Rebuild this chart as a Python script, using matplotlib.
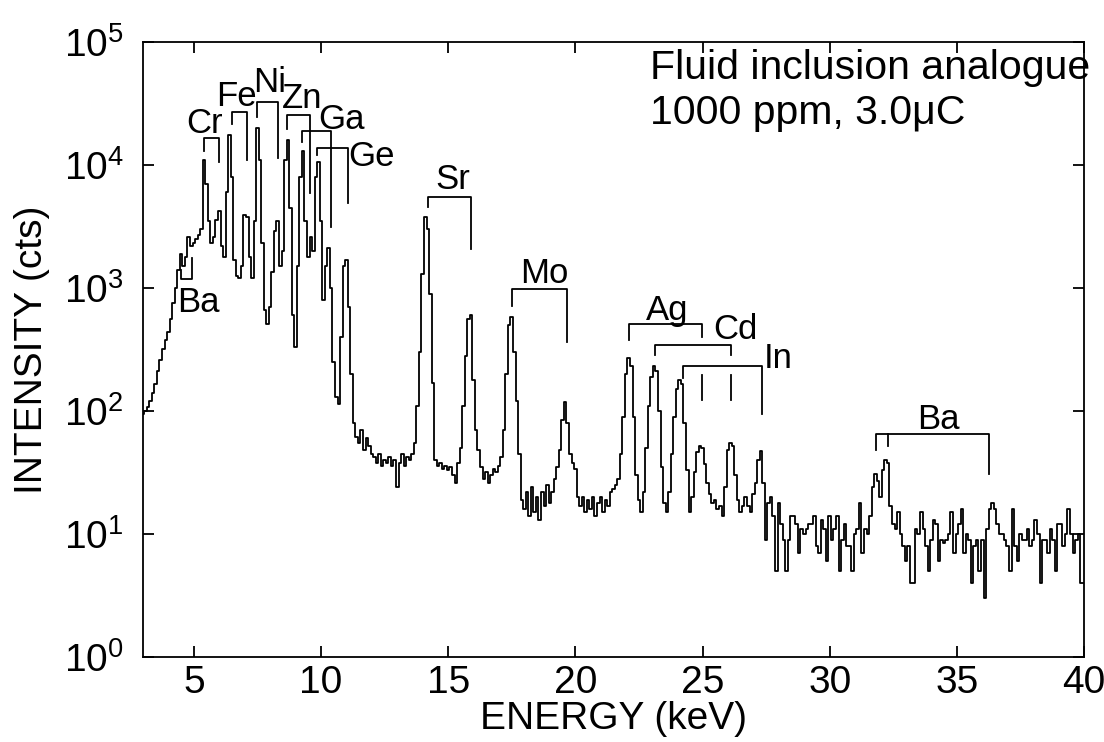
import numpy as np
import matplotlib
matplotlib.use('Agg')
import matplotlib.pyplot as plt

plt.rcParams['font.family'] = ['Liberation Sans', 'DejaVu Sans']
plt.rcParams['mathtext.default'] = 'regular'

# spectrum, one value per 0.1 keV channel, 3.0 ... 40.0 keV
e_start = 3.0
e_step = 0.1
counts = [
    95, 100, 108, 120, 140, 165, 210, 260, 320, 380,             # 3
    440, 560, 760, 1000, 1400, 1900, 1500, 1800, 2600, 2200,      # 4
    2300, 2500, 2700, 3000, 11000, 7000, 3500, 2300, 2600, 3600,  # 5
    4200, 2200, 1800, 6000, 17500, 8000, 1700, 1250, 1200, 1500,  # 6
    3900, 3800, 1800, 1200, 3500, 20000, 11000, 2300, 660, 510,   # 7
    700, 1350, 2900, 3500, 1500, 2000, 11000, 16000, 4500, 600,   # 8
    330, 1500, 8000, 13000, 3500, 1800, 2600, 2000, 8000, 10500,  # 9
    3500, 800, 1500, 2100, 1000, 250, 130, 115, 400, 1500,        # 10
    1700, 700, 200, 80, 62, 55, 70, 48, 60, 52,                   # 11
    45, 42, 38, 45, 36, 40, 38, 42, 36, 40,                       # 12
    24, 38, 45, 36, 42, 40, 45, 55, 110, 300,                     # 13
    1300, 3800, 3000, 900, 170, 40, 36, 38, 34, 36,               # 14
    33, 35, 30, 26, 38, 50, 110, 280, 560, 600,                   # 15
    180, 70, 48, 35, 28, 32, 26, 30, 34, 32,                      # 16
    36, 42, 70, 200, 500, 580, 300, 120, 45, 19,                  # 17
    16, 22, 14, 24, 15, 20, 13, 22, 17, 25,                       # 18
    18, 22, 28, 35, 48, 85, 118, 80, 45, 38,                      # 19
    34, 20, 17, 20, 15, 19, 16, 20, 14, 18,                       # 20
    20, 15, 19, 17, 22, 23, 25, 28, 45, 90,                       # 21
    200, 270, 230, 90, 30, 19, 15, 22, 50, 110,                   # 22
    190, 230, 210, 100, 35, 18, 15, 22, 45, 90,                   # 23
    150, 180, 165, 80, 33, 15, 20, 32, 46, 52,                    # 24
    50, 37, 26, 21, 18, 19, 16, 17, 14, 24,                       # 25
    48, 55, 52, 30, 19, 15, 17, 20, 17, 15,                       # 26
    21, 26, 40, 47, 26, 9, 18, 20, 14, 5,                         # 27
    18, 12, 9, 5, 9, 14, 14, 12, 7, 11,                           # 28
    10, 11, 12, 12, 14, 8, 7, 13, 11, 6,                          # 29
    14, 9, 11, 14, 5, 9, 12, 8, 8, 5,                             # 30
    10, 11, 18, 7, 11, 10, 14, 24, 31, 27,                        # 31
    20, 33, 40, 38, 17, 12, 11, 15, 10, 8,                        # 32
    6, 8, 4, 4, 11, 10, 15, 11, 8, 5,                             # 33
    9, 13, 12, 6, 9, 8.5, 9, 10, 15, 7,                           # 34
    10, 12, 16, 7, 10, 9, 4, 8, 9, 5,                             # 35
    9, 3, 11, 16, 18, 16, 12, 10, 10, 9,                          # 36
    8, 5, 16, 8, 6, 10, 9, 9, 11, 8,                              # 37
    9, 13, 10, 4, 9, 9, 7, 11, 9, 5,                              # 38
    12, 12, 8, 10, 16, 10, 7, 9, 10, 4,                           # 39
    4,                                                            # 40
]

# element brackets: name, Ka / Kb energies, bar height, leg ends (counts)
br_names = ['Cr', 'Fe', 'Ni', 'Zn', 'Ga', 'Ge', 'Sr', 'Mo', 'Ag', 'Cd', 'In']
br_e1 = [5.40, 6.49, 7.50, 8.65, 9.26, 9.86, 14.19, 17.51, 22.12, 23.13, 24.22]
br_e2 = [5.99, 7.08, 8.30, 9.58, 10.39, 11.07, 15.90, 19.69, 24.98, 26.12, 27.35]
br_top = [16600, 26900, 32400, 25700, 19000, 13800, 5500, 980, 513, 347, 234]
br_low1 = [12900, 21400, 24500, 19500, 15500, 12000, 4570, 708, 380, 285, 184]
br_low2 = [10500, 11000, 11500, 5900, 3160, 4900, 2090, 363, 398, 285, 95]
lab_x = [5.43, 6.66, 7.97, 9.24, 10.79, 12.0, 15.17, 18.77, 23.6, 26.28, 27.97]
lab_y = [21900, 36300, 46800, 34700, 23400, 11700, 7600, 1320, 660, 457, 269]

# lower tick marks of Ag and Cd Kb below the In bar
extra_e = [24.98, 26.12]
extra_lo = [123, 123]
extra_hi = [195, 195]

# Ba K bracket (two Ka legs + Kb)
baK_e = [31.82, 32.28, 36.28]
baK_top = 65
baK_low = [48, 52, 30.5]
# Ba L bracket (opened upward)
baL_e = [4.51, 4.91]
baL_bot = 1175
baL_hi = [1410, 1740]

e = e_start + e_step * np.arange(len(counts))

fig = plt.figure(figsize=(11.04, 7.42), dpi=100)
ax = fig.add_axes([0.1295, 0.1146, 0.8524, 0.8288])
ax.step(e, counts, where='mid', color='black', lw=1.3)

lk = dict(color='black', lw=1.3)
for i in range(len(br_names)):
    ax.plot([br_e1[i], br_e1[i], br_e2[i], br_e2[i]],
            [br_low1[i], br_top[i], br_top[i], br_low2[i]], **lk)
    ax.text(lab_x[i], lab_y[i], br_names[i], fontsize=25, ha='center', va='center')
for i in range(len(extra_e)):
    ax.plot([extra_e[i], extra_e[i]], [extra_lo[i], extra_hi[i]], **lk)

ax.plot([baK_e[0], baK_e[0], baK_e[2], baK_e[2]],
        [baK_low[0], baK_top, baK_top, baK_low[2]], **lk)
ax.plot([baK_e[1], baK_e[1]], [baK_low[1], baK_top], **lk)
ax.text(34.27, 85, 'Ba', fontsize=25, ha='center', va='center')

ax.plot([baL_e[0], baL_e[0], baL_e[1], baL_e[1]],
        [baL_hi[0], baL_bot, baL_bot, baL_hi[1]], **lk)
ax.text(5.18, 760, 'Ba', fontsize=25, ha='center', va='center')

ax.text(0.539, 0.958, 'Fluid inclusion analogue', transform=ax.transAxes,
        fontsize=29.5, ha='left', va='center')
ax.text(0.539, 0.885, '1000 ppm, 3.0μC', transform=ax.transAxes,
        fontsize=29.5, ha='left', va='center')

ax.set_yscale('log')
ax.set_xlim(3, 40)
ax.set_ylim(1, 1e5)
ax.set_xticks([5, 10, 15, 20, 25, 30, 35, 40])
ax.set_yticks([1, 10, 100, 1e3, 1e4, 1e5])
ax.minorticks_off()
ax.tick_params(direction='in', top=True, right=True, length=8, width=1.3,
               labelsize=28)
ax.tick_params(axis='y', pad=14)
ax.tick_params(axis='x', pad=6)
for s in ax.spines.values():
    s.set_linewidth(1.3)
ax.set_xlabel('ENERGY (keV)', fontsize=28, labelpad=0)
ax.set_ylabel('INTENSITY (cts)', fontsize=28, labelpad=10)

fig.savefig('out.png', dpi=100)
